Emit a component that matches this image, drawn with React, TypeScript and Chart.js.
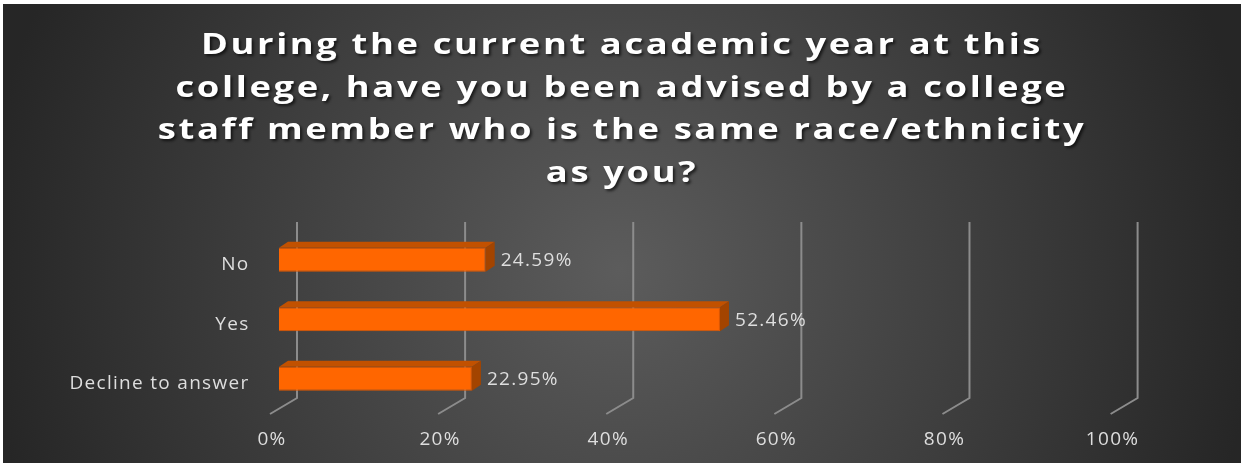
import React, { useEffect, useRef } from "react";
import { Chart, registerables } from "chart.js";

Chart.register(...registerables);

const titleLines = [
  "During the current academic year at this",
  "college, have you been advised by a college",
  "staff member who is the same race/ethnicity",
  "as you?",
];
const categories = ["No", "Yes", "Decline to answer"];
const values = [24.59, 52.46, 22.95];
const tickValues = [0, 20, 40, 60, 80, 100];
const tickLabels = ["0%", "20%", "40%", "60%", "80%", "100%"];

const W = 1238;
const H = 459;
const LABEL_FONT = '"Open Sans", sans-serif';
const LABEL_COLOR = "#dedede";
const LETTER = "1.3px";

const chart3dPlugin = {
  id: "chart3d",
  beforeDraw(chart: any) {
    const ctx = chart.ctx as CanvasRenderingContext2D;
    ctx.save();
    const g = ctx.createRadialGradient(617, 266, 0, 617, 266, 640);
    g.addColorStop(0, "#5c5c5c");
    g.addColorStop(1, "#262626");
    ctx.fillStyle = g;
    ctx.fillRect(0, 0, chart.width, chart.height);

    // title
    ctx.font = 'bold 28px "Open Sans", sans-serif';
    ctx.fillStyle = "#ffffff";
    ctx.textAlign = "center";
    ctx.textBaseline = "alphabetic";
    ctx.shadowColor = "rgba(0,0,0,0.65)";
    ctx.shadowOffsetX = 2;
    ctx.shadowOffsetY = 2;
    ctx.shadowBlur = 3;
    titleLines.forEach((line, i) => {
      ctx.save();
      ctx.translate(W / 2, 50 + i * 42.5);
      ctx.scale(1.3, 1);
      (ctx as any).letterSpacing = "2px";
      ctx.fillText(line, 0, 0);
      ctx.restore();
    });
    ctx.restore();
    (ctx as any).letterSpacing = LETTER;
  },
  beforeDatasetsDraw(chart: any) {
    const ctx = chart.ctx as CanvasRenderingContext2D;
    const xs = chart.scales.x;
    ctx.save();
    (ctx as any).letterSpacing = "0px";
    ctx.strokeStyle = "#8c8c8c";
    ctx.lineWidth = 2;
    xs.ticks.forEach((t: any) => {
      const px = xs.getPixelForValue(t.value);
      ctx.beginPath();
      ctx.moveTo(px + 18, 218);
      ctx.lineTo(px + 18, 394);
      ctx.lineTo(px - 9, 410);
      ctx.stroke();
    });
    ctx.restore();
  },
  afterDatasetsDraw(chart: any) {
    const ctx = chart.ctx as CanvasRenderingContext2D;
    const meta = chart.getDatasetMeta(0);
    const dx = 9;
    const dy = -6;
    ctx.save();
    meta.data.forEach((bar: any, i: number) => {
      const p = bar.getProps(["x", "y", "base", "height"], true);
      const top = p.y - p.height / 2;
      const bottom = p.y + p.height / 2;
      ctx.fillStyle = "#c25100";
      ctx.beginPath();
      ctx.moveTo(p.base, top);
      ctx.lineTo(p.x, top);
      ctx.lineTo(p.x + dx, top + dy);
      ctx.lineTo(p.base + dx, top + dy);
      ctx.closePath();
      ctx.fill();
      ctx.fillStyle = "#a34400";
      ctx.beginPath();
      ctx.moveTo(p.x, top);
      ctx.lineTo(p.x + dx, top + dy);
      ctx.lineTo(p.x + dx, bottom + dy);
      ctx.lineTo(p.x, bottom);
      ctx.closePath();
      ctx.fill();
      ctx.font = `19px ${LABEL_FONT}`;
      ctx.fillStyle = LABEL_COLOR;
      ctx.textAlign = "left";
      ctx.textBaseline = "middle";
      (ctx as any).letterSpacing = LETTER;
      ctx.fillText(values[i].toFixed(2) + "%", p.x + 15, p.y + 1);
    });
    ctx.restore();
  },
  afterDraw(chart: any) {
    (chart.ctx as any).letterSpacing = "0px";
  },
};

export default function App() {
  const ref = useRef<HTMLCanvasElement | null>(null);
  useEffect(() => {
    if (!ref.current) return;
    const chart = new Chart(ref.current, {
      type: "bar",
      data: {
        labels: categories,
        datasets: [
          {
            data: values,
            backgroundColor: "#ff6600",
            borderColor: "#e05800",
            borderWidth: 1,
            categoryPercentage: 1,
            barPercentage: 0.4,
          },
        ],
      },
      options: {
        indexAxis: "y",
        responsive: false,
        animation: false,
        devicePixelRatio: 1,
        layout: { padding: { top: 226, left: 0, right: 121.4, bottom: 0 } },
        plugins: {
          legend: { display: false },
          title: { display: false },
          tooltip: { enabled: false },
        },
        scales: {
          x: {
            type: "linear",
            min: 0,
            max: 100,
            afterBuildTicks(scale: any) {
              scale.ticks = tickValues.map((v) => ({ value: v }));
            },
            afterFit(scale: any) {
              scale.height = 54.5;
            },
            grid: { display: false, drawTicks: false },
            border: { display: false },
            ticks: {
              padding: 20,
              labelOffset: -7,
              color: LABEL_COLOR,
              font: { family: LABEL_FONT, size: 19 },
              callback: (_v: any, i: number) => tickLabels[i],
            },
          },
          y: {
            afterFit(scale: any) {
              scale.width = 276;
            },
            grid: { display: false, drawTicks: false },
            border: { display: false },
            ticks: {
              padding: 29.5,
              labelOffset: 5,
              color: LABEL_COLOR,
              font: { family: LABEL_FONT, size: 19 },
            },
          },
        },
      },
      plugins: [chart3dPlugin],
    });
    return () => chart.destroy();
  }, []);

  return (
    <div
      style={{
        position: "fixed",
        left: 0,
        top: 0,
        width: 1244,
        height: 463,
        background: "#ffffff",
      }}
    >
      <canvas
        ref={ref}
        width={W}
        height={H}
        style={{ position: "absolute", left: 3, top: 4, width: W, height: H }}
      />
    </div>
  );
}
